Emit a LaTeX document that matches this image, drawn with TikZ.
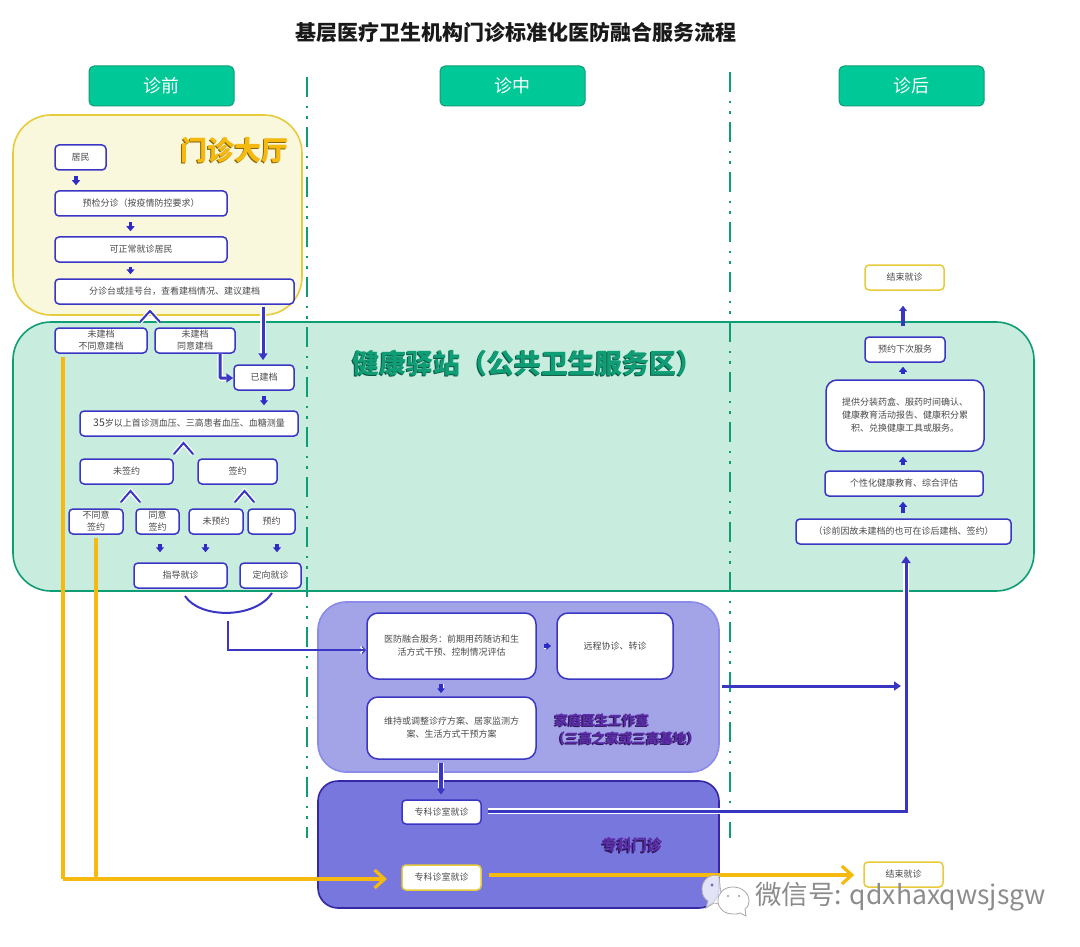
\documentclass[tikz,border=0pt]{standalone}
\usepackage{fontspec}
\setmainfont{Noto Sans CJK SC}
\usetikzlibrary{arrows.meta}
\definecolor{bblue}{HTML}{3A36C4}
\definecolor{eblue}{HTML}{2F2BC8}
\definecolor{gborder}{HTML}{0F9D76}
\definecolor{gfill}{HTML}{C8EDDF}
\definecolor{yfill}{HTML}{F9F8DC}
\definecolor{yborder}{HTML}{E8CB3C}
\definecolor{head}{HTML}{00C896}
\definecolor{amber}{HTML}{F5B90F}
\definecolor{pone}{HTML}{A3A3E8}
\definecolor{ptwo}{HTML}{7777DD}
\definecolor{pedge}{HTML}{3527A5}
\definecolor{ptext}{HTML}{5A2CA8}
\definecolor{btext}{HTML}{4A4A4A}
\tikzset{
  region/.style={line width=1.6pt},
  box/.style={draw=bblue,fill=white,line width=1.5pt,rounded corners=4pt,inner sep=0pt,
    text=btext,align=center,font=\fontsize{9}{13}\selectfont},
  tight/.style={font=\fontsize{9}{12}\selectfont},
  roomy/.style={rounded corners=11pt,font=\fontsize{9}{13}\selectfont},
  ybox/.style={draw=yborder},
  headbox/.style={draw=gborder,fill=head,line width=1pt,rounded corners=5pt,inner sep=0pt,
    text=white,font=\fontsize{18}{22}\selectfont},
  sarrow/.style={draw=eblue,line width=3.2pt,-{Triangle[width=8pt,length=5pt]},shorten <=5pt,shorten >=5pt},
  halo/.style={preaction={draw=white,line width=#1}},
  chev/.style={draw=bblue,line width=2pt,line cap=round,line join=miter,halo=4.5pt},
  longarrow/.style={draw=bblue,line width=3pt,-{Triangle[width=9pt,length=7pt]}},
  amberline/.style={draw=amber,line width=3.2pt},
  amberarrow/.style={amberline,-{Straight Barb[width=18pt,length=10pt,line width=3.2pt]}},
  divider/.style={draw=gborder,line width=2.2pt,dash pattern=on 20pt off 9pt on 2.4pt off 8pt on 2.4pt off 8.2pt},
  bigt/.style={font=\fontsize{#1}{#1}\bfseries\selectfont,inner sep=0pt},
}
\newcommand{\flowbox}[7][]{%
  \pgfmathsetmacro\cxv{(#3+#5)/2}\pgfmathsetmacro\cyv{(#4+#6)/2}%
  \node[box,#1,minimum width={#5-#3},minimum height={#6-#4}] (#2) at (\cxv,\cyv) {#7};}
\newcommand{\shadowed}[6]{%
  \node[bigt=#4,text=#6!55!black,align=center] (#1s) at (#2-1.3,#3+1.3) {#5};
  \node[bigt=#4,text=#6,align=center] (#1) at (#2,#3) {#5};}
\begin{document}
\begin{tikzpicture}[x=1pt,y=-1pt]
\useasboundingbox (0,0) rectangle (1080,947);
\fill[white] (0,0) rectangle (1080,947);

% regions
\draw[region,draw=yborder,fill=yfill,rounded corners=38pt] (13,115) rectangle (302,315);
\draw[region,draw=gborder,fill=gfill,rounded corners=38pt] (13,322) rectangle (1034,591);
\draw[region,draw=pone!85!blue,fill=pone,rounded corners=28pt] (318,602) rectangle (719,772);
\draw[region,draw=pedge,fill=ptwo,rounded corners=20pt] (318,781) rectangle (719,908);

% dividers
\coordinate (d1a) at (307,77); \coordinate (d1b) at (307,838);
\coordinate (d2a) at (730,72); \coordinate (d2b) at (730,838);
\draw[divider] (d1a) -- (d1b);
\draw[divider] (d2a) -- (d2b);

% title + heads
\node[font=\fontsize{21}{24}\bfseries\selectfont,text=black!90,inner sep=0pt] (title) at (516,33) {基层医疗卫生机构门诊标准化医防融合服务流程};
\node[headbox,minimum width=145pt,minimum height=40pt] (h1) at (161.5,86) {诊前};
\node[headbox,minimum width=145pt,minimum height=40pt] (h2) at (512.5,86) {诊中};
\node[headbox,minimum width=145pt,minimum height=40pt] (h3) at (911.5,86) {诊后};

% region titles
\shadowed{tdt}{234.5}{150}{27}{门诊大厅}{amber}
\shadowed{tjk}{528}{363}{27}{健康驿站（公共卫生服务区）}{gborder}
\shadowed{tjt}{602}{720}{13.5}{家庭医生工作室}{ptext}
\shadowed{tsg}{626}{738}{13.5}{（三高之家或三高基地）}{ptext}
\shadowed{tzk}{632}{845}{15}{专科门诊}{ptext}

% left column boxes
\flowbox{jm}{55}{145}{106}{170}{居民}
\flowbox{yj}{55}{191}{227}{216}{预检分诊（按疫情防控要求）}
\flowbox{kz}{55}{237}{227}{262}{可正常就诊居民}
\flowbox{fz}{55}{279}{294}{304}{分诊台或挂号台，查看建档情况、建议建档}
\flowbox[tight]{wb}{55}{328}{147}{353}{未建档\\不同意建档}
\flowbox[tight]{wt}{155}{328}{235}{353}{未建档\\同意建档}
\flowbox{yd}{234}{365}{294}{390}{已建档}
\flowbox{sw}{80}{411}{298}{436}{{\fontsize{10.5}{13}\selectfont\color{black!75}35}岁以上首诊测血压、三高患者血压、血糖测量}
\flowbox{wq}{80}{459}{173}{484}{未签约}
\flowbox{qy}{198}{459}{277}{484}{签约}
\flowbox[tight]{bq}{69}{509}{123}{534}{不同意\\签约}
\flowbox[tight]{tq}{136}{509}{179}{534}{同意\\签约}
\flowbox{wy}{189}{509}{243}{534}{未预约}
\flowbox{yy}{248}{509}{295}{534}{预约}
\flowbox{zd}{134}{563}{227}{588}{指导就诊}
\flowbox{dx}{240}{563}{301}{588}{定向就诊}

% middle boxes
\flowbox[roomy]{yf}{367}{613}{536}{679}{医防融合服务：前期用药随访和生\\活方式干预、控制情况评估}
\flowbox[roomy]{yc}{557}{613}{673}{679}{远程协诊、转诊}
\flowbox[roomy]{wc}{367}{697}{536}{759}{维持或调整诊疗方案、居家监测方\\案、生活方式干预方案}
\flowbox{zk}{402}{800}{481}{824}{专科诊室就诊}
\flowbox[ybox]{zy}{402}{865}{481}{890}{专科诊室就诊}

% right boxes
\flowbox[ybox]{je}{865}{265}{944}{290}{结束就诊}
\flowbox{xc}{865}{337}{945}{362}{预约下次服务}
\flowbox[roomy]{tg}{826}{380}{984}{451}{提供分装药盒、服药时间确认、\\健康教育活动报告、健康积分累\\积、兑换健康工具或服务。}
\flowbox{gx}{825}{471}{983}{496}{个性化健康教育、综合评估}
\flowbox{zq}{796}{519}{1011}{544}{（诊前因故未建档的也可在诊后建档、签约）}
\flowbox[ybox]{jb}{864}{862}{943}{887}{结束就诊}

% small arrows
\draw[sarrow] (76,0 |- jm.south) -- (76,0 |- yj.north);
\draw[sarrow] (130.5,0 |- yj.south) -- (130.5,0 |- kz.north);
\draw[sarrow,shorten <=4pt,shorten >=4pt] (130.5,0 |- kz.south) -- (130.5,0 |- fz.north);
\draw[sarrow] (264,0 |- yd.south) -- (264,0 |- sw.north);
\draw[sarrow,shorten <=9pt,shorten >=10pt] (160,0 |- tq.south) -- (160,0 |- zd.north);
\draw[sarrow,shorten <=9pt,shorten >=10pt] (205.5,0 |- wy.south) -- (205.5,0 |- zd.north);
\draw[sarrow,shorten <=9pt,shorten >=10pt] (277,0 |- yy.south) -- (277,0 |- dx.north);
\draw[sarrow,halo=5pt,shorten <=4pt,shorten >=3pt] (441,0 |- yf.south) -- (441,0 |- wc.north);
\draw[sarrow,halo=5pt,shorten <=7pt,shorten >=5pt] (yf.east |- 0,646) -- (yc.west |- 0,646);
\draw[sarrow] (903,0 |- zq.north) -- (903,0 |- gx.south);
\draw[sarrow] (903,0 |- gx.north) -- (903,0 |- tg.south);
\draw[sarrow,shorten <=5pt,shorten >=4pt] (903,0 |- tg.north) -- (903,0 |- xc.south);
\draw[longarrow,line width=3.4pt,-{Triangle[width=7.5pt,length=5pt]},shorten <=10pt,shorten >=15pt] (903,0 |- xc.north) -- (903,0 |- je.south);

% chevrons
\coordinate (c1) at (150,311); \coordinate (c2) at (183.5,443);
\coordinate (c3) at (130.5,491); \coordinate (c4) at (244.5,491);
\draw[chev] (c1) ++(-10,11) -- (c1) -- ++(10,11);
\draw[chev] (c2) ++(-9.5,11) -- (c2) -- ++(9.5,11);
\draw[chev] (c3) ++(-9.5,11) -- (c3) -- ++(9.5,11);
\draw[chev] (c4) ++(-9.5,11) -- (c4) -- ++(9.5,11);

% arc under the two result boxes
\coordinate (arcl) at (185,596); \coordinate (arcr) at (272,593);
\draw[draw=bblue,line width=2pt] (arcl) .. controls (200,619) and (255,619) .. (arcr);

% connectors
\draw[longarrow,halo=5.5pt,shorten >=4pt] (263,0 |- fz.south) ++(0,2) -- (263,0 |- yd.north);
\draw[longarrow,halo=5.5pt,rounded corners=1pt] (220,0 |- wt.south) -- (220,378) -- (yd.west |- 0,378);
\coordinate (arcout) at (228,621);
\draw[draw=bblue,line width=1.1pt,-{Straight Barb[width=7pt,length=3.5pt]},halo=2.5pt] (arcout) -- (228,650) -- (yf.west |- 0,650);
\draw[longarrow,line width=3.6pt,halo=6pt,shorten <=3pt,shorten >=4pt] (441,0 |- wc.south) -- (441,0 |- zk.north);
\coordinate (pout) at (722,686); \coordinate (pin) at (901,686);
\draw[longarrow] (pout) -- (pin);
\coordinate (upin) at (906,556);
\draw[longarrow,halo=5.5pt] (zk.east) ++(6,-1) -- (906,811) -- (upin);

% amber connectors
\coordinate (aj) at (63,879);
\draw[amberline] (wb.south -| aj) ++(0,3) -- (aj);
\draw[amberarrow] (aj) -- (387,879);
\draw[amberline] (96,0 |- bq.south) ++(0,3) -- (96,879);
\draw[amberarrow,shorten >=9pt] (zy.east |- 0,875) ++(7,0) -- (jb.west |- 0,875);

% watermark
\draw[draw=black!30,fill=white,fill opacity=.8,line width=.8pt]
  (719,876) .. controls (708,873) and (702,882) .. (702,889)
  .. controls (702,896) and (705,899) .. (708,901) -- (706,908) -- (714,903) .. controls (718,904) and (720,904) .. (722,903) -- cycle;
\fill[pedge!70] (712,885) circle (1.6pt);
\draw[draw=black!35,fill=white,line width=.8pt]
  (733,887) .. controls (724,887) and (718,893) .. (718,901)
  .. controls (718,909) and (725,914) .. (733,914) .. controls (736,914) and (738,914) .. (740,913) -- (746,916) -- (745,909)
  .. controls (748,907) and (749,904) .. (749,901) .. controls (749,893) and (742,887) .. (733,887) -- cycle;
\fill[black!40] (728,896) circle (1.2pt) (739,896) circle (1.2pt);
\node[anchor=west,inner sep=0pt,text=black!45,font=\fontsize{26.5}{28}\selectfont] (wm) at (755,897) {微信号: qdxhaxqwsjsgw};
\end{tikzpicture}
\end{document}
